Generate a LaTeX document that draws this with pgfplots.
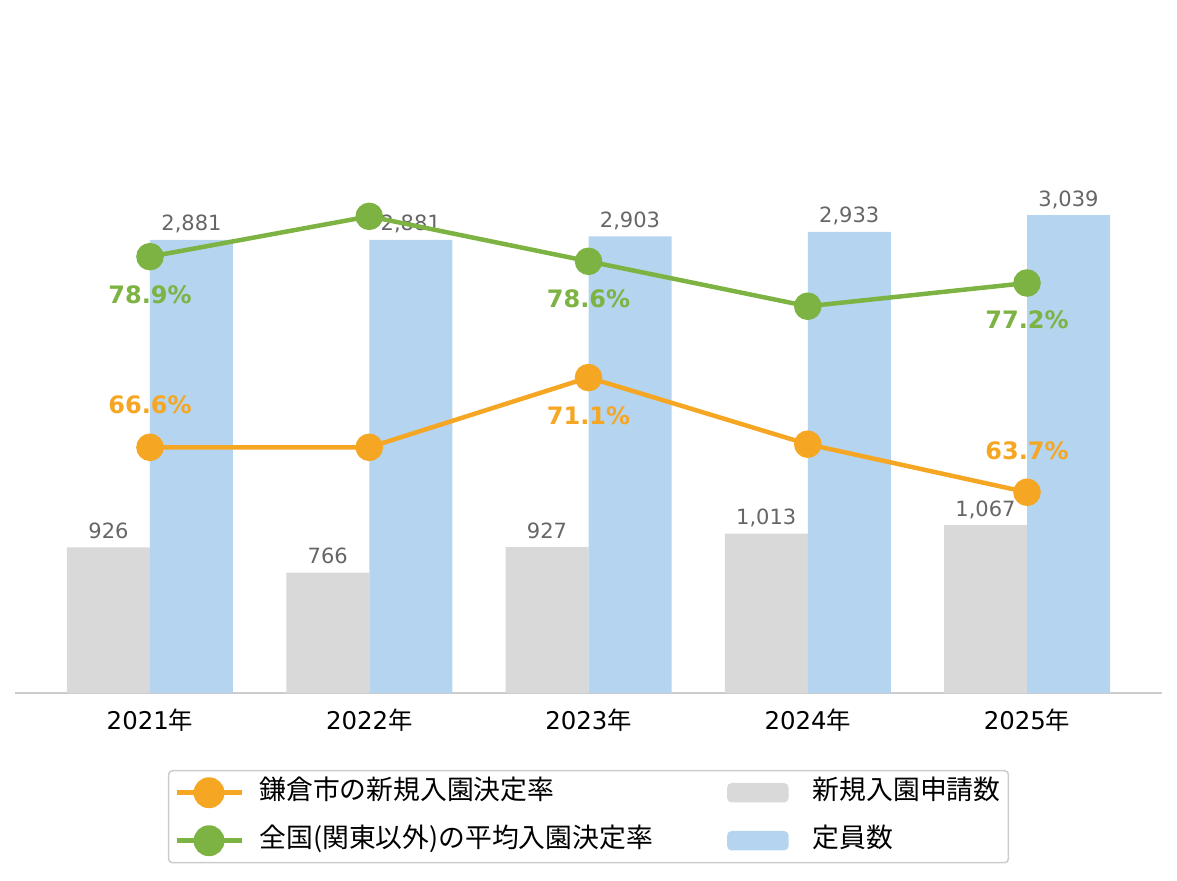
\documentclass[border=0pt]{standalone}
\usepackage{pgfplots}
\pgfplotsset{compat=1.18}
\usepackage{pgfplotstable}
\usepackage{fontspec}
\setmainfont{Noto Sans CJK JP}
\newfontfamily\dejavu{DejaVu Sans}
\definecolor{cOrange}{HTML}{F5A623}
\definecolor{cGreen}{HTML}{7CB342}
\definecolor{cGray}{HTML}{D9D9D9}
\definecolor{cBlue}{HTML}{B4D4EF}
\definecolor{cLabel}{HTML}{666666}
\definecolor{cAxis}{HTML}{CCCCCC}

\pgfplotstableread{
x req cap
0 926 2881
1 766 2881
2 927 2903
3 1013 2933
4 1067 3039
}\bars

\pgfplotstableread{
x val lbl dy
0 66.6 66.6\% 21.3
1 66.6 {} 0
2 71.1 71.1\% -19.25
3 66.8 {} 0
4 63.7 63.7\% 20.9
}\kama

\pgfplotstableread{
x val lbl dy
0 78.9 78.9\% -19
1 81.5 {} 0
2 78.6 78.6\% -18.5
3 75.7 {} 0
4 77.2 77.2\% -18.5
}\zenkoku

\begin{document}
\begin{tikzpicture}
\path[use as bounding box] (0,0) rectangle (588.5pt,440.5pt);
\begin{axis}[
  at={(7.5pt,94pt)}, anchor=south west,
  scale only axis, width=573.5pt, height=314.5pt,
  xmin=-0.6157, xmax=4.6157, ymin=0, ymax=4000,
  axis x line=bottom, axis y line=none,
  x axis line style={-, draw=cAxis, line width=1pt},
  xtick={0,...,4},
  xticklabels={{\dejavu 2021}年,{\dejavu 2022}年,{\dejavu 2023}年,{\dejavu 2024}年,{\dejavu 2025}年},
  major tick length=0pt,
  xticklabel style={anchor=base, yshift=-18.5pt, font=\fontsize{12.2pt}{14pt}\selectfont},
  ytick=\empty,
  ybar, bar width=41.5pt, clip=false,
  /pgf/number format/.cd, 1000 sep={,}, assume math mode=true,
]
\addplot[fill=cGray, draw=none, bar shift=-20.75pt, nodes near coords,
  every node near coord/.append style={anchor=base, yshift=4.5pt, inner sep=0pt, text=cLabel, font=\dejavu\fontsize{10.5pt}{13pt}\selectfont}]
  table[x=x,y=req]{\bars};
\addplot[fill=cBlue, draw=none, bar shift=20.75pt, nodes near coords,
  every node near coord/.append style={anchor=base, yshift=4.5pt, inner sep=0pt, text=cLabel, font=\dejavu\fontsize{10.5pt}{13pt}\selectfont}]
  table[x=x,y=cap]{\bars};
\end{axis}
\begin{axis}[
  at={(7.5pt,94pt)}, anchor=south west,
  scale only axis, width=573.5pt, height=314.5pt,
  xmin=-0.6157, xmax=4.6157, ymin=50.75, ymax=91.33,
  hide axis, clip=false,
  legend columns=2, legend cell align=left,
  legend style={at={(0.5,-0.1224)}, anchor=north, draw=cAxis, line width=0.75pt,
    rounded corners=2pt, inner xsep=4pt, inner ysep=4.5pt,
    font=\fontsize{13.4pt}{15pt}\selectfont,
    nodes={inner sep=0pt, text height=10pt, text depth=3pt},
    /tikz/every odd column/.append style={column sep=9pt},
    /tikz/every even column/.append style={column sep=37.5pt},
    row sep=11pt},
]
\addplot[cOrange, line width=2.25pt, mark=*, mark size=5.75pt, mark options={draw=none, fill=cOrange},
  point meta=explicit symbolic, nodes near coords,
  visualization depends on={\thisrow{dy} \as \labdy},
  every node near coord/.append style={anchor=center, yshift=\labdy pt, inner sep=0pt, text=cOrange, font=\dejavu\bfseries\fontsize{12pt}{14pt}\selectfont},
  legend image code/.code={\path[draw=none, fill=none] (0pt,0pt) -- (32.5pt,0pt); \draw[overlay, cOrange, line width=2.25pt] (0pt,0pt) -- (32.5pt,0pt); \fill[overlay, cOrange] (16.25pt,0pt) circle (6.6pt);}]
  table[x=x,y=val,meta=lbl]{\kama};
\addlegendentry{鎌倉市の新規入園決定率}
\addlegendimage{legend image code/.code={\path[draw=none, fill=none] (0pt,0pt) -- (33.5pt,0pt); \fill[overlay, cGray] (0pt,-4.5pt) rectangle (30pt,4.5pt);}}
\addlegendentry{新規入園申請数}
\addplot[cGreen, line width=2.25pt, mark=*, mark size=5.75pt, mark options={draw=none, fill=cGreen},
  point meta=explicit symbolic, nodes near coords,
  visualization depends on={\thisrow{dy} \as \labdy},
  every node near coord/.append style={anchor=center, yshift=\labdy pt, inner sep=0pt, text=cGreen, font=\dejavu\bfseries\fontsize{12pt}{14pt}\selectfont},
  legend image code/.code={\path[draw=none, fill=none] (0pt,0pt) -- (32.5pt,0pt); \draw[overlay, cGreen, line width=2.25pt] (0pt,0pt) -- (32.5pt,0pt); \fill[overlay, cGreen] (16.25pt,0pt) circle (6.6pt);}]
  table[x=x,y=val,meta=lbl]{\zenkoku};
\addlegendentry{全国(関東以外)の平均入園決定率}
\addlegendimage{legend image code/.code={\path[draw=none, fill=none] (0pt,0pt) -- (33.5pt,0pt); \fill[overlay, cBlue] (0pt,-4.5pt) rectangle (30pt,4.5pt);}}
\addlegendentry{定員数}
\end{axis}
\end{tikzpicture}
\end{document}
